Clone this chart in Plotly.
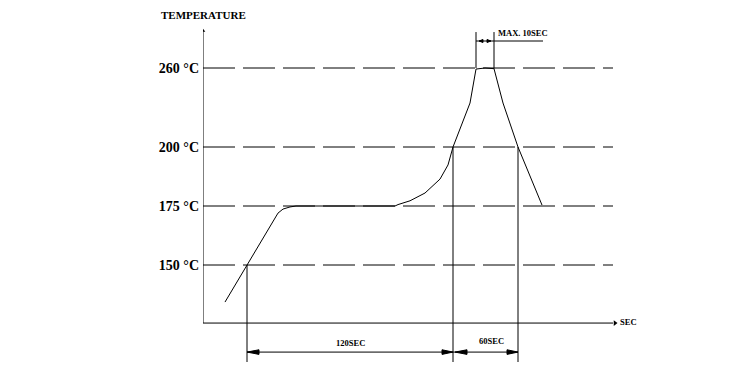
import numpy as np
import plotly.graph_objects as go

# ---------------- data ----------------
temp_ticks = [150, 175, 200, 260]
tick_labels = ["150 °C", "175 °C", "200 °C", "260 °C"]

# reflow profile: schematic time units vs temperature (°C)
profile_time = [22, 44, 75, 80, 87, 93, 192, 195, 207, 222, 237, 245, 250,
                267, 273, 282, 291, 300, 315, 339]
profile_temp = [134.3, 150, 172, 173.7, 174.6, 175, 175, 175.6, 177.2, 180.5,
                186.4, 192.4, 200, 233.4, 259.2, 260, 259.5, 233.4, 200, 175.4]

t_150 = 44          # crossing of 150 °C
t_200_up = 250      # crossing of 200 °C (rising)
t_200_down = 315    # crossing of 200 °C (falling)
t_peak_start = 273  # start of peak plateau
t_peak_end = 291    # end of peak plateau
t_axis_end = 410    # end of time axis

temp_axis_min = 125.4
temp_axis_max = 289.0
temp_dim_low = 113.1     # level of the bottom dimension line
temp_ext_low = 108.9     # bottom of extension lines
temp_dim_high = 280.5    # level of the top dimension line
temp_ext_high = 287.3    # top of the top extension lines
t_peak_dim_end = 340

span_labels = ["120SEC", "60SEC"]
peak_label = "MAX. 10SEC"
x_title = "SEC"
y_title = "TEMPERATURE"

# schematic (piecewise) temperature scale
scale_temp = [80, 150, 200, 260, 320]
scale_pos = [58 - 70 * 2.36, 58, 176, 255, 255 + 60 * 1.317]


def ymap(t):
    return np.interp(t, scale_temp, scale_pos)


FONT = "Liberation Serif"
fig = go.Figure()


def line(xs, ts, dash="solid", width=1):
    fig.add_trace(go.Scatter(x=xs, y=list(ymap(np.array(ts, dtype=float))),
                             mode="lines", line=dict(color="black", width=width, dash=dash),
                             hoverinfo="skip", showlegend=False))


def arrow(tip, level, direction, length=12, half=2.3):
    y0 = float(ymap(level))
    base = tip - direction * length
    fig.add_trace(go.Scatter(x=[tip, base, base, tip], y=[y0, y0 + half, y0 - half, y0],
                             mode="lines", fill="toself", fillcolor="black",
                             line=dict(color="black", width=1),
                             hoverinfo="skip", showlegend=False))


# dashed reference levels
for t in temp_ticks:
    line([0, t_axis_end], [t, t], dash="32px,8px")

# axes
line([0, 0], [temp_axis_min, temp_axis_max])
line([0, t_axis_end], [temp_axis_min, temp_axis_min])
fig.add_trace(go.Scatter(x=[t_axis_end + 2], y=[float(ymap(temp_axis_min))], mode="markers",
                         marker=dict(symbol="triangle-right", size=5, color="black"),
                         hoverinfo="skip", showlegend=False))
fig.add_trace(go.Scatter(x=[0], y=[float(ymap(temp_axis_max)) - 1], mode="markers",
                         marker=dict(symbol="triangle-up", size=4, color="black"),
                         hoverinfo="skip", showlegend=False))

# profile curve
line(profile_time, profile_temp)

# extension lines
line([t_150, t_150], [150, temp_ext_low])
line([t_200_up, t_200_up], [200, temp_ext_low])
line([t_200_down, t_200_down], [200, temp_ext_low])
line([t_peak_start, t_peak_start], [temp_ext_high, 260])
line([t_peak_end, t_peak_end], [temp_ext_high, 259.5])

# bottom dimension line + arrows
line([t_150, t_200_down], [temp_dim_low, temp_dim_low])
arrow(t_150, temp_dim_low, -1)
arrow(t_200_up, temp_dim_low, 1, length=11)
arrow(t_200_up + 2, temp_dim_low, -1)
arrow(t_200_down, temp_dim_low, 1, length=11)

# top dimension line + arrows
line([t_peak_start, t_peak_dim_end], [temp_dim_high, temp_dim_high])
arrow(t_peak_start + 3, temp_dim_high, -1, length=4, half=1.5)
arrow(t_peak_end - 3, temp_dim_high, 1, length=4, half=1.5)

small = dict(family=FONT, size=8.5, color="black", weight="bold")
ann = [
    dict(x=(t_150 + t_200_up) / 2, y=float(ymap(temp_dim_low)) + 2, text=span_labels[0],
         xanchor="center", yanchor="bottom", font=small),
    dict(x=(t_200_up + t_200_down) / 2 + 6, y=float(ymap(temp_dim_low)) + 4, text=span_labels[1],
         xanchor="center", yanchor="bottom", font=small),
    dict(x=(t_peak_end + t_peak_dim_end) / 2 + 4, y=float(ymap(temp_dim_high)) + 1, text=peak_label,
         xanchor="center", yanchor="bottom", font=small),
    dict(x=t_axis_end + 5, y=float(ymap(temp_axis_min)) + 1, text=x_title,
         xanchor="left", yanchor="middle", font=small),
    dict(x=0, xref="paper", y=1.039, yref="paper", text=y_title,
         xanchor="center", yanchor="middle",
         font=dict(family=FONT, size=11, color="black", weight="bold")),
]
for a in ann:
    a.setdefault("xref", "x")
    a.setdefault("yref", "y")
    a["showarrow"] = False

fig.update_layout(
    width=745, height=374,
    margin=dict(l=203, r=105, t=28, b=9),
    paper_bgcolor="white", plot_bgcolor="white",
    annotations=ann,
    xaxis=dict(range=[0, 437], visible=False, fixedrange=True),
    yaxis=dict(range=[-42, 295], showgrid=False, zeroline=False, showline=False,
               tickmode="array", tickvals=[float(ymap(t)) for t in temp_ticks],
               ticktext=tick_labels, ticks="", ticklabelstandoff=3,
               tickfont=dict(family=FONT, size=14, color="black", weight="bold"),
               fixedrange=True),
)

fig.write_html("out.html")
